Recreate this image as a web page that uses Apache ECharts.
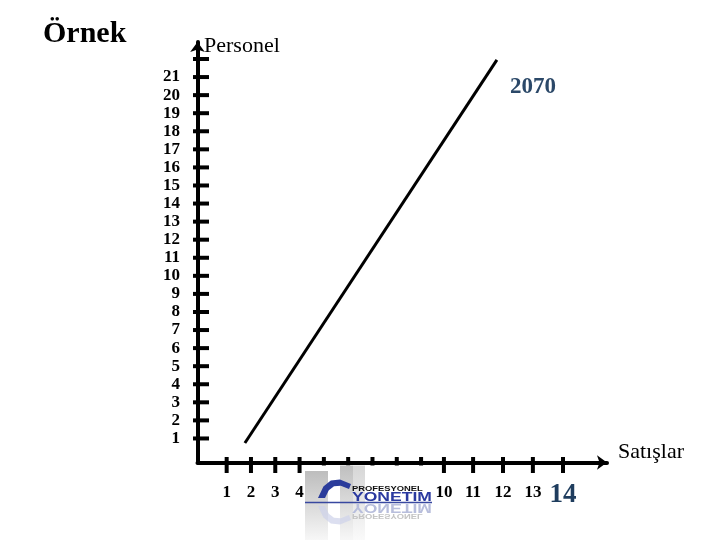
<!DOCTYPE html>
<html><head><meta charset="utf-8">
<script src="https://cdn.jsdelivr.net/npm/echarts@6/dist/echarts.min.js"></script>
<style>html,body{margin:0;padding:0;background:#fff}#c{width:720px;height:540px}</style>
</head><body><div id="c"></div>
<script>
// ---- data ----
const xTickValues = [1, 2, 3, 4, 5, 6, 7, 8, 9, 9.94, 11.14, 12.37, 13.6, 14.84];
const xTickLabels = ['1','2','3','4','5','6','7','8','9','10','11','12','13','14'];
const yTickValues = [1,2,3,4,5,6,7,8,9,10,11,12,13,14,15,16,17,18,19,20,21,22];
const yTickLabels = ['1','2','3','4','5','6','7','8','9','10','11','12','13','14','15','16','17','18','19','20','21',''];
const lineX = [1.75, 12.12];
const lineY = [0.75, 21.95];
const annotation = '2070';
const titleText = 'Örnek';
const yName = 'Personel';
const xName = 'Satışlar';

// ---- chart ----
const X_MIN = -0.2, X_MAX = 16.65, Y_MIN = -0.33, Y_MAX = 22.94;
const serif = "'Liberation Serif','Times New Roman',serif";
const sans = "'Liberation Sans',Arial,sans-serif";
const chart = echarts.init(document.getElementById('c'), null, {renderer: 'canvas'});

const axisCommon = {
  type: 'value',
  axisLine: {show: true, onZero: false, symbol: ['none', 'arrow'], symbolSize: [11, 10],
    lineStyle: {color: '#000', width: 4}},
  axisTick: {show: false}, axisLabel: {show: false}, splitLine: {show: false}
};

const grad = (a, b) => ({type: 'linear', x: 0, y: 0, x2: 0, y2: 1,
  colorStops: [{offset: 0, color: a}, {offset: 1, color: b}]});

const swoosh = [[318,498],[323.4,486.6],[330.8,480.5],[339.9,479.6],[351,484],
  [349,489],[340.8,485.8],[334,486.3],[328.8,490.3],[325,498]];
const swooshRefl = swoosh.map(p => [p[0], 1004 - p[1]]);

const option = {
  animation: false,
  grid: {left: 197.5, right: 113, top: 42, bottom: 77.5},
  xAxis: Object.assign({}, axisCommon, {min: X_MIN, max: X_MAX}),
  yAxis: Object.assign({}, axisCommon, {min: Y_MIN, max: Y_MAX}),
  series: [
    {
      type: 'line', data: lineX.map((x, i) => [x, lineY[i]]),
      symbol: 'none', showSymbol: false, z: 5,
      lineStyle: {color: '#000', width: 3}
    },
    {
      type: 'scatter', clip: false, z: 4,
      data: yTickValues.map((v, i) => ({value: [X_MIN, v], label: {formatter: yTickLabels[i]}})),
      symbol: 'rect', symbolSize: [16, 4], symbolOffset: [3.5, 0],
      itemStyle: {color: '#000', opacity: 1},
      label: {show: true, position: 'left', distance: 13, fontFamily: serif,
        fontWeight: 'bold', fontSize: 17, color: '#000'}
    },
    {
      type: 'scatter', clip: false, z: 4,
      data: xTickValues.map((v, i) => {
        const d = {value: [v, Y_MIN], label: {formatter: xTickLabels[i]}};
        if (i === xTickValues.length - 1) {
          d.label.fontSize = 27; d.label.color = '#1f3d5e'; d.label.distance = 9;
        }
        return d;
      }),
      symbol: 'rect', symbolSize: [4, 16], symbolOffset: [0, 2.5],
      itemStyle: {color: '#000', opacity: 1},
      label: {show: true, position: 'bottom', distance: 11, fontFamily: serif,
        fontWeight: 'bold', fontSize: 17, color: '#000'}
    }
  ],
  graphic: [
    {type: 'text', z: 100, x: 43, y: 34.5,
      style: {text: titleText, font: 'bold 30px ' + serif, fill: '#000', textVerticalAlign: 'middle'}},
    {type: 'text', z: 100, x: 204, y: 46,
      style: {text: yName, font: '22px ' + serif, fill: '#000', textVerticalAlign: 'middle'}},
    {type: 'text', z: 100, x: 618, y: 452,
      style: {text: xName, font: '22px ' + serif, fill: '#000', textVerticalAlign: 'middle'}},
    {type: 'text', z: 100, x: 533, y: 87,
      style: {text: annotation, font: 'bold 23px ' + serif, fill: '#2b4868',
        textAlign: 'center', textVerticalAlign: 'middle'}},
    // logo
    {type: 'rect', z: 100, shape: {x: 305, y: 465.5, width: 131, height: 75}, style: {fill: '#fff'}},
    {type: 'rect', z: 101, shape: {x: 305, y: 471, width: 23, height: 69}, style: {fill: grad('#bdbdbd', '#f7f7f7')}},
    {type: 'rect', z: 101, shape: {x: 340, y: 465.5, width: 13, height: 75}, style: {fill: grad('#bfbfbf', '#f7f7f7')}},
    {type: 'rect', z: 101, shape: {x: 353, y: 465.5, width: 12, height: 75}, style: {fill: grad('#d6d6d6', '#fafafa')}},
    {type: 'polygon', z: 102, shape: {points: swoosh}, style: {fill: '#2b3c9b'}},
    {type: 'polygon', z: 102, shape: {points: swooshRefl}, style: {fill: '#cdd2ea', opacity: 0.7}},
    {type: 'text', z: 103, x: 352, y: 488.5, scaleX: 1.25,
      style: {text: 'PROFESYONEL', font: 'bold 7.5px ' + sans, fill: '#111', textVerticalAlign: 'middle'}},
    {type: 'text', z: 103, x: 352, y: 497, scaleX: 1.35,
      style: {text: 'YONETIM', font: 'bold 13px ' + sans, fill: '#2b3aa0', textVerticalAlign: 'middle'}},
    {type: 'line', z: 103, shape: {x1: 305, y1: 502.5, x2: 432, y2: 502.5},
      style: {stroke: '#3848a0', lineWidth: 1.5}},
    {type: 'text', z: 103, x: 352, y: 508, scaleX: 1.35, scaleY: -1,
      style: {text: 'YONETIM', font: 'bold 13px ' + sans, fill: '#b8bedc', textVerticalAlign: 'middle'}},
    {type: 'text', z: 103, x: 352, y: 516.5, scaleX: 1.25, scaleY: -1,
      style: {text: 'PROFESYONEL', font: 'bold 7.5px ' + sans, fill: '#c4c4c4', textVerticalAlign: 'middle'}}
  ]
};
chart.setOption(option);
</script>
</body></html>
